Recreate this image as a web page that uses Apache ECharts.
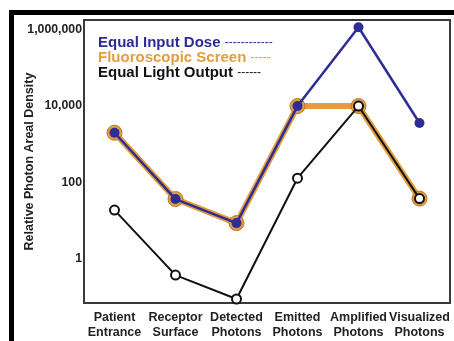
<!DOCTYPE html>
<html>
<head>
<meta charset="utf-8">
<script src="https://cdn.jsdelivr.net/npm/echarts@6/dist/echarts.min.js"></script>
<style>
html,body{margin:0;padding:0;background:#fff;}
#c{width:454px;height:341px;}
</style>
</head>
<body>
<div id="c"></div>
<script>
var categories = ['Patient\nEntrance', 'Receptor\nSurface', 'Detected\nPhotons', 'Emitted\nPhotons', 'Amplified\nPhotons', 'Visualized\nPhotons'];
var equalInputDose = [2000, 37, 8.7, 10000, 1150000, 3600];
var fluoroscopicScreen = [2000, 37, 8.7, 10000, 10000, 38];
var equalLightOutput = [19, 0.38, 0.09, 130, 10000, 38];
var yTickValues = [1, 100, 10000, 1000000];
var yTickLabels = ['1', '100', '10,000', '1,000,000'];
var seriesNames = ['Equal Input Dose', 'Fluoroscopic Screen', 'Equal Light Output'];
var legendDashes = ['------------', '-----', '------'];

var BLUE = '#2d2d96', ORANGE = '#e39d3e', BLACK = '#111111';
function lg(arr){ return arr.map(function(v){ return Math.log10(v); }); }
var tickLogs = yTickValues.map(function(v){ return Math.round(Math.log10(v)*100)/100; });

var chart = echarts.init(document.getElementById('c'), null, {renderer:'canvas'});
var FONT = '"Liberation Sans", Arial, sans-serif';
chart.setOption({
  backgroundColor: '#fff',
  animation: false,
  textStyle: {fontFamily: FONT},
  graphic: [
    {type:'rect', shape:{x:9, y:10, width:445, height:5}, style:{fill:'#000'}, z:100},
    {type:'rect', shape:{x:9, y:10, width:5, height:331}, style:{fill:'#000'}, z:100}
  ],
  legend: {
    orient: 'vertical', left: 88, top: 30, itemWidth: 0, itemHeight: 10, itemGap: 0,
    icon: 'none', selectedMode: false,
    data: seriesNames.map(function(n, i){
      return {name: n, textStyle: {color: [BLUE, ORANGE, BLACK][i]}};
    }),
    formatter: function(name){
      var i = seriesNames.indexOf(name);
      return '{n|' + name + '} {d|' + legendDashes[i] + '}';
    },
    textStyle: {
      fontFamily: FONT, fontWeight: 'bold', fontSize: 15,
      rich: {n: {fontFamily: FONT, fontWeight: 'bold', fontSize: 15}, d: {fontFamily: FONT, fontSize: 12, fontWeight: 'normal'}}
    }
  },
  grid: {left: 84, right: 4, top: 20, bottom: 38, show: true, borderColor: '#3a3a3a', borderWidth: 2, backgroundColor: 'transparent'},
  xAxis: {
    type: 'category', data: categories, boundaryGap: true,
    axisLine: {show: false}, axisTick: {show: false}, splitLine: {show: false},
    axisLabel: {interval: 0, margin: 7, color: '#222', fontWeight: 'bold', fontSize: 12.5, lineHeight: 15, fontFamily: FONT}
  },
  yAxis: {
    type: 'value', min: -1.15, max: 6.25, interval: 0.05,
    name: 'Relative Photon Areal Density', nameLocation: 'middle', nameGap: 48, nameRotate: 90,
    nameMoveOverlap: false,
    nameTextStyle: {color: '#222', fontWeight: 'bold', fontSize: 12.5, fontFamily: FONT},
    axisLine: {show: false}, axisTick: {show: false}, splitLine: {show: false},
    axisLabel: {
      margin: 2, color: '#222', fontWeight: 'bold', fontSize: 12.3, fontFamily: FONT,
      formatter: function(v){
        var r = Math.round(v*100)/100;
        var i = tickLogs.indexOf(r);
        return i >= 0 ? yTickLabels[i] : '';
      }
    }
  },
  series: [
    {
      name: seriesNames[1], type: 'line', data: lg(fluoroscopicScreen), z: 2,
      symbol: 'circle', symbolSize: 15,
      lineStyle: {color: ORANGE, width: 6},
      itemStyle: {color: ORANGE, borderColor: '#b07a30', borderWidth: 1}
    },
    {
      name: seriesNames[2], type: 'line', data: lg(equalLightOutput), z: 3,
      symbol: 'circle', symbolSize: 9, clip: false,
      lineStyle: {color: BLACK, width: 2},
      itemStyle: {color: '#fff', borderColor: BLACK, borderWidth: 2}
    },
    {
      name: seriesNames[0], type: 'line', data: lg(equalInputDose), z: 4,
      symbol: 'circle', symbolSize: 10, clip: false,
      lineStyle: {color: BLUE, width: 2.5},
      itemStyle: {color: BLUE}
    }
  ]
});
</script>
</body>
</html>
